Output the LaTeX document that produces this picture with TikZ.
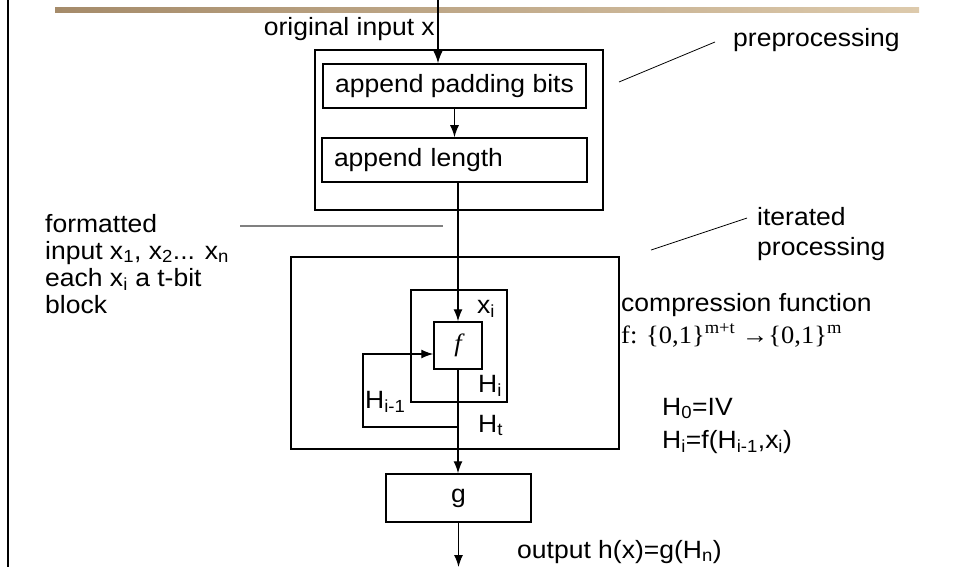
\documentclass[tikz,border=0pt]{standalone}
\usepackage{fontspec}
\usetikzlibrary{arrows.meta}
\setmainfont[FakeStretch=1.06]{Liberation Sans}
\newfontfamily\timesfont[FakeStretch=1.06]{Liberation Serif}
\definecolor{sandleft}{RGB}{165,139,106}
\definecolor{sandright}{RGB}{221,202,172}
\definecolor{guide}{RGB}{128,128,128}

\begin{document}
\begin{tikzpicture}[x=1pt,y=-1pt,
    txt/.style={font=\fontsize{25}{27}\selectfont,inner sep=0pt},
    box/.style={txt,draw,line width=1.5pt},
    frame/.style={draw,line width=2pt,inner sep=0pt},
    arr/.style={-{Latex[length=12pt,width=9pt]},line width=1.3pt},
    note/.style={line width=0.8pt}]
    \useasboundingbox (0,0) rectangle (955,567);
    \shade[left color=sandleft,right color=sandright] (55,8) rectangle (919,13);
    \draw[line width=2.5pt] (8,0) -- (8,567);

    \node[frame,minimum width=288,minimum height=160] (pre) at (459,130) {};
    \node[box,minimum width=263,minimum height=44] (pad) at (454.5,86) {append padding bits};
    \node[box,minimum width=265,minimum height=44,text width=241,align=left] (len) at (454.5,160) {append length};
    \node[frame,minimum width=328,minimum height=192] (iter) at (455,353) {};
    \node[frame,minimum width=96,minimum height=112] (loop) at (459,346) {};
    \node[box,minimum width=48,minimum height=47] (f) at (458,345.5) {\timesfont\itshape f};
    \node[box,minimum width=145,minimum height=48] (g) at (458.5,498) {g};

    \coordinate (src) at (438,0);
    \coordinate (sink) at (458,567);
    \coordinate (turn) at (363,427);
    \draw[arr] (src) -- (src |- pad.north);
    \draw[arr] (pad.south) -- (len.north);
    \draw[arr] (f.north |- len.south) -- (f.north);
    \draw[arr] (f.south) -- (f.south |- g.north);
    \draw[arr] (f.south |- turn) -- (turn) |- ([yshift=-8.5pt]f.west);
    \draw[arr] (g.south) -- (g.south |- sink);

    \node[txt,anchor=base east] (orig) at (435,36) {original input x};
    \node[txt,anchor=base west] (prelbl) at (733,47) {preprocessing};
    \coordinate (pretip) at (715,42);
    \coordinate (prefoot) at (619,82);
    \draw[note] (prefoot) -- (pretip);
    \node[txt,font=\fontsize{25}{30}\selectfont,anchor=base west,align=left] (iterlbl) at (757,255) {iterated\\processing};
    \coordinate (itertip) at (747,218);
    \coordinate (iterfoot) at (651,250);
    \draw[note] (iterfoot) -- (itertip);
    \node[txt,anchor=base west,align=left] (fmt) at (45,313) {formatted\\input x\textsubscript{1}, x\textsubscript{2}... x\textsubscript{n}\\each x\textsubscript{i} a t-bit\\block};
    \coordinate (fmttip) at (240,226);
    \coordinate (fmtfoot) at (443,226);
    \draw[guide,line width=1.2pt] (fmttip) -- (fmtfoot);

    \node[txt,anchor=base west] (comp) at (621,311) {compression function};
    \node[txt,anchor=base west] (sig) at (621,343) {\timesfont f: \{0,1\}\textsuperscript{m+t} →\{0,1\}\textsuperscript{m}};
    \node[txt,font=\fontsize{25}{33}\selectfont,anchor=base west,align=left] (eqs) at (662,448) {H\textsubscript{0}=IV\\H\textsubscript{i}=f(H\textsubscript{i-1},x\textsubscript{i})};
    \node[txt,anchor=base west] (xi) at (477,313) {x\textsubscript{i}};
    \node[txt,anchor=base west] (hi) at (478,392) {H\textsubscript{i}};
    \node[txt,anchor=base west] (hprev) at (365,408) {H\textsubscript{i-1}};
    \node[txt,anchor=base west] (ht) at (478,432) {H\textsubscript{t}};
    \node[txt,anchor=base west] (outlbl) at (517,558) {output h(x)=g(H\textsubscript{n})};
\end{tikzpicture}
\end{document}
